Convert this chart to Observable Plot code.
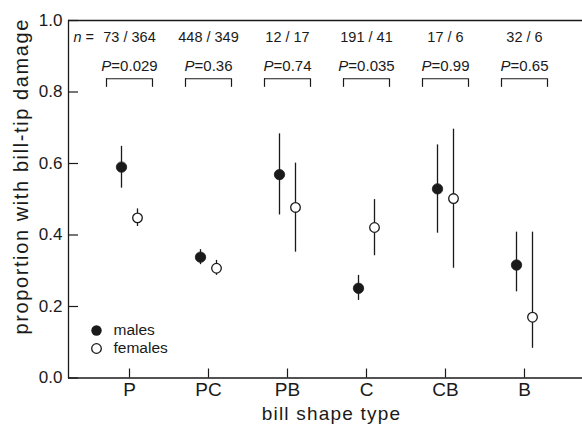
<!DOCTYPE html>
<html>
<head>
<meta charset="utf-8">
<script src="https://cdn.jsdelivr.net/npm/d3@7"></script>
<script src="https://cdn.jsdelivr.net/npm/@observablehq/plot@0.6"></script>
<style>
  html, body { margin: 0; padding: 0; background: white; overflow: hidden; }
  #chart svg { display: block; }
</style>
</head>
<body>
<div id="chart"></div>
<script>
const types = ["P", "PC", "PB", "C", "CB", "B"];
const maleMean = [0.590, 0.338, 0.569, 0.251, 0.529, 0.316];
const maleLo   = [0.531, 0.317, 0.456, 0.217, 0.405, 0.241];
const maleHi   = [0.648, 0.359, 0.683, 0.287, 0.652, 0.408];
const femaleMean = [0.448, 0.307, 0.477, 0.421, 0.502, 0.170];
const femaleLo   = [0.424, 0.287, 0.352, 0.342, 0.307, 0.083];
const femaleHi   = [0.473, 0.329, 0.601, 0.499, 0.696, 0.408];
const nLabels = ["73 / 364", "448 / 349", "12 / 17", "191 / 41", "17 / 6", "32 / 6"];
const pLabels = ["P=0.029", "P=0.36", "P=0.74", "P=0.035", "P=0.99", "P=0.65"];
const yTicks = [0, 0.2, 0.4, 0.6, 0.8, 1.0];
const seriesNames = ["males", "females"];

const males = types.map((t, i) => ({type: t, mean: maleMean[i], lo: maleLo[i], hi: maleHi[i]}));
const females = types.map((t, i) => ({type: t, mean: femaleMean[i], lo: femaleLo[i], hi: femaleHi[i]}));

const ink = "#1a1a1a";
const font = "'Liberation Sans', Arial, Helvetica, sans-serif";

const W = 582, H = 428, ML = 68, MR = 0, MT = 20, MB = 50.5;

// a plain vertical stroke for the left side of the box
const lineUp = {draw(context, l) { context.moveTo(0, 0); context.lineTo(0, -l); }};

const chart = Plot.plot({
  width: W,
  height: H,
  marginLeft: ML,
  marginRight: MR,
  marginTop: MT,
  marginBottom: MB,
  style: {fontFamily: font, color: ink, background: "white", overflow: "hidden"},
  x: {type: "point", domain: types, range: [129, 524], padding: 0},
  y: {domain: [0, 1]},
  marks: [
    // box: top, bottom and left sides
    Plot.ruleY([0, 1], {stroke: ink, strokeWidth: 1.3}),
    Plot.vector([0], {frameAnchor: "bottom-left", length: H - MT - MB, rotate: 0, anchor: "start", shape: lineUp, stroke: ink, strokeWidth: 1.3}),
    // axes with inward ticks
    Plot.axisY({ticks: yTicks, tickSize: -10, fill: "none", stroke: ink, strokeWidth: 1.2}),
    Plot.axisY({ticks: yTicks, tickSize: 0, tickPadding: 6, tickFormat: d3.format(".1f"), fontSize: 17, label: null, fill: ink}),
    Plot.axisX({tickSize: -9, fill: "none", stroke: ink, strokeWidth: 1.2}),
    Plot.axisX({tickSize: 0, tickPadding: 4, fontSize: 19, label: null, fill: ink}),
    // error bars and means
    Plot.ruleX(males, {x: "type", y1: "lo", y2: "hi", dx: -8, stroke: ink, strokeWidth: 1.3}),
    Plot.ruleX(females, {x: "type", y1: "lo", y2: "hi", dx: 8, stroke: ink, strokeWidth: 1.3}),
    Plot.dot(males, {x: "type", y: "mean", dx: -8, r: 5.2, fill: ink, stroke: ink, strokeWidth: 0.8}),
    Plot.dot(females, {x: "type", y: "mean", dx: 8, r: 4.8, fill: "white", stroke: ink, strokeWidth: 1.3}),
    // sample sizes and P values
    Plot.text(["n ="], {frameAnchor: "top-left", dx: 5, dy: 17, textAnchor: "start", lineAnchor: "middle", fontSize: 14.5, fill: ink}),
    Plot.text(nLabels, {x: (d, i) => types[i], text: d => d, frameAnchor: "top", dy: 17, lineAnchor: "middle", fontSize: 14.5, fill: ink}),
    Plot.text(pLabels, {x: (d, i) => types[i], text: d => d, frameAnchor: "top", dy: 46, lineAnchor: "middle", fontSize: 15, fill: ink}),
    // brackets
    Plot.ruleY(types, {x1: d => d, x2: d => d, y: 0.837, insetLeft: -23, insetRight: -23, stroke: ink, strokeWidth: 1.2}),
    Plot.ruleX(types, {x: d => d, y1: 0.813, y2: 0.837, dx: -23, stroke: ink, strokeWidth: 1.2}),
    Plot.ruleX(types, {x: d => d, y1: 0.813, y2: 0.837, dx: 23, stroke: ink, strokeWidth: 1.2}),
    // legend
    Plot.dot([seriesNames[0]], {frameAnchor: "bottom-left", dx: 28, dy: -47.5, r: 5.2, fill: ink}),
    Plot.dot([seriesNames[1]], {frameAnchor: "bottom-left", dx: 28, dy: -29.5, r: 4.8, fill: "white", stroke: ink, strokeWidth: 1.3}),
    Plot.text([seriesNames[0]], {text: d => d, frameAnchor: "bottom-left", dx: 45, dy: -47.5, textAnchor: "start", lineAnchor: "middle", fontSize: 15.5, fill: ink}),
    Plot.text([seriesNames[1]], {text: d => d, frameAnchor: "bottom-left", dx: 45, dy: -29.5, textAnchor: "start", lineAnchor: "middle", fontSize: 15.5, fill: ink}),
    // axis titles
    Plot.text(["proportion with bill-tip damage"], {text: d => d, frameAnchor: "left", dx: -47, dy: -23, rotate: -90, textAnchor: "middle", lineAnchor: "middle", fontSize: 20, fill: ink}),
    Plot.text(["bill shape type"], {text: d => d, frameAnchor: "bottom-left", dx: 263, dy: 36, textAnchor: "middle", lineAnchor: "middle", fontSize: 19, fill: ink})
  ]
});

// italicise the statistic symbols, widen the title lettering like the reference
d3.select(chart).selectAll("text").each(function() {
  const t = this.textContent;
  const el = d3.select(this);
  if (t.startsWith("P=")) {
    el.text(null);
    el.append("tspan").attr("font-style", "italic").text("P");
    el.append("tspan").text(t.slice(1));
  } else if (t === "n =") {
    el.text(null);
    el.append("tspan").attr("font-style", "italic").text("n");
    el.append("tspan").text(" =");
  } else if (t === "proportion with bill-tip damage") {
    el.attr("letter-spacing", 1.6);
  } else if (t === "bill shape type") {
    el.attr("letter-spacing", 1.2);
  }
});

document.getElementById("chart").appendChild(chart);
</script>
</body>
</html>
